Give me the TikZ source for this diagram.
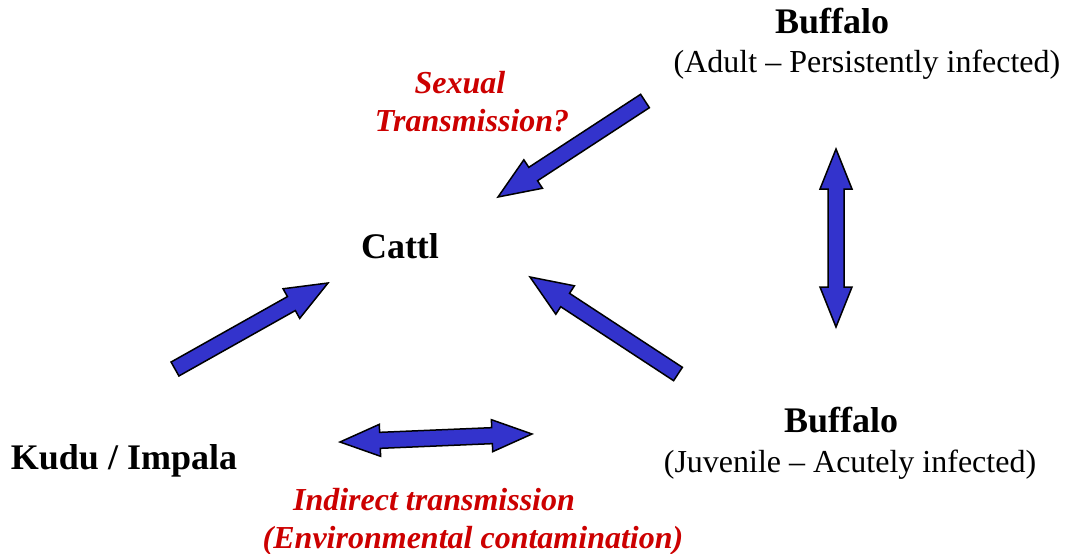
\documentclass[tikz,border=0pt]{standalone}
\usepackage{fontspec}
\setmainfont{Liberation Serif}
\usetikzlibrary{calc}
\definecolor{flowblue}{RGB}{51,51,204}
\definecolor{notered}{RGB}{204,0,0}
\tikzset{
  animal/.style={inner sep=0pt,anchor=base,font=\fontsize{36}{40}\selectfont\bfseries},
  stage/.style={inner sep=0pt,anchor=base,font=\fontsize{32}{38}\selectfont},
  route/.style={inner sep=0pt,anchor=base,align=center,text=notered,
    font=\fontsize{32}{38}\selectfont\bfseries\itshape},
  arrowbody/.style={fill=flowblue,draw=black,line width=1.5pt,line join=miter},
}
% block arrow from #1 (tail) to #2 (tip)
\newcommand{\flowarrow}[2]{%
  \coordinate (nk) at ($(#2)!42pt!(#1)$);
  \draw[arrowbody] ($(#1)!8pt!90:(#2)$) -- ($(nk)!8pt!90:(#2)$) -- ($(nk)!17pt!90:(#2)$)
    -- (#2) -- ($(nk)!17pt!-90:(#2)$) -- ($(nk)!8pt!-90:(#2)$) -- ($(#1)!8pt!-90:(#2)$) -- cycle;
}
% block arrow with heads at both ends
\newcommand{\swaparrow}[2]{%
  \coordinate (na) at ($(#1)!40pt!(#2)$);
  \coordinate (nb) at ($(#2)!40pt!(#1)$);
  \draw[arrowbody] (#1) -- ($(na)!16pt!90:(#2)$) -- ($(na)!8pt!90:(#2)$) -- ($(nb)!8pt!90:(#2)$)
    -- ($(nb)!16pt!90:(#2)$) -- (#2) -- ($(nb)!16pt!-90:(#2)$) -- ($(nb)!8pt!-90:(#2)$)
    -- ($(na)!8pt!-90:(#2)$) -- ($(na)!16pt!-90:(#2)$) -- cycle;
}

\begin{document}
\begin{tikzpicture}[x=1pt,y=-1pt]
  \useasboundingbox (0,0) rectangle (1069,554);
  % hosts
  \node[animal] (cattle) at (400,258) {Cattl};
  \node[animal] (kudu) at (124,469) {Kudu / Impala};
  \node[animal] (buffA) at (832,33) {Buffalo};
  \node[stage] (buffAsub) at (867,72) {(Adult -- Persistently infected)};
  \node[animal] (buffJ) at (841,432) {Buffalo};
  \node[stage] (buffJsub) at (850,472) {(Juvenile -- Acutely infected)};
  % routes (base = last line)
  \node[route] (sexual) at (472,131) {Sexual\hspace*{24pt}\\Transmission?};
  \node[route] (indirect) at (473,548) {Indirect transmission\hspace*{78pt}\\(Environmental contamination)};
  % arrow ends
  \coordinate (sexT) at (645,101);  \coordinate (sexH) at (498,197);
  \coordinate (juvT) at (678,374);  \coordinate (juvH) at (530,277);
  \coordinate (kudT) at (175,369);  \coordinate (kudH) at (328,283);
  \coordinate (envA) at (340,442);  \coordinate (envB) at (532,434);
  \coordinate (bufA) at (836,149);  \coordinate (bufB) at (836,327);
  \flowarrow{sexT}{sexH}
  \flowarrow{juvT}{juvH}
  \flowarrow{kudT}{kudH}
  \swaparrow{envA}{envB}
  \swaparrow{bufA}{bufB}
\end{tikzpicture}
\end{document}
